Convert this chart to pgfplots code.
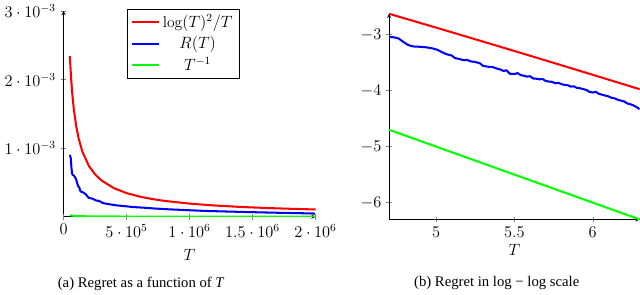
\documentclass[border=0pt]{standalone}
\usepackage{fontspec}
\newfontfamily\capfont{Liberation Serif}
\usepackage{pgfplots}
\pgfplotsset{compat=1.18}
\pgfplotsset{every tick label/.append style={font=\fontsize{11.5}{13}\selectfont},
  every axis label/.append style={font=\fontsize{11.5}{13}\selectfont}}
\begin{document}
\begin{tikzpicture}
\begin{axis}[
  at={(0pt,0pt)}, anchor=south west,
  width=185pt, height=151pt, scale only axis,
  axis lines=left, scaled ticks=false,
  xmin=0, xmax=2e6, ymin=0, ymax=3e-3,
  xtick={5e5,1e6,1.5e6,2e6},
  xticklabels={$5\cdot10^{5}$,$1\cdot10^{6}$,$1.5\cdot10^{6}$,$2\cdot10^{6}$},
  extra x ticks={0}, extra x tick labels={$0$},
  extra x tick style={hide obscured x ticks=false},
  ytick={1e-3,2e-3,3e-3},
  yticklabels={$1\cdot10^{-3}$,$2\cdot10^{-3}$,$3\cdot10^{-3}$},
  xlabel={$T$}, xlabel style={yshift=2pt},
  legend cell align=center,
  legend style={at={(0.25,1.01)}, anchor=north west, row sep=1pt, font=\fontsize{11.5}{13}\selectfont},
  legend image code/.code={\draw[#1] (0cm,0cm) -- (0.7cm,0cm);},
]
\addplot[red, line width=1.5pt] coordinates {
(5.0e4,2.3414e-3) (6.0e4,2.0175e-3) (7.0e4,1.7780e-3) (8.0e4,1.5932e-3)
(1.0e5,1.3255e-3) (1.2e5,1.1398e-3) (1.5e5,9.470e-4) (2.0e5,7.449e-4)
(2.5e5,6.180e-4) (3.0e5,5.302e-4) (4.0e5,4.160e-4) (5.0e5,3.444e-4)
(6.0e5,2.950e-4) (7.0e5,2.588e-4) (8.0e5,2.309e-4) (1.0e6,1.9087e-4)
(1.2e6,1.6328e-4) (1.4e6,1.4306e-4) (1.6e6,1.2755e-4) (1.8e6,1.1525e-4)
(2.0e6,1.0525e-4)
};
\addlegendentry{$\log(T)^2/T$}
\addplot[blue, line width=1.5pt] coordinates {
(5.01e4,9.02e-4) (5.75e4,8.51e-4) (6.03e4,7.76e-4) (6.31e4,7.08e-4)
(6.61e4,6.53e-4) (6.92e4,6.24e-4) (7.24e4,6.10e-4) (7.94e4,6.03e-4)
(8.71e4,5.89e-4) (9.55e4,5.62e-4) (1.023e5,5.31e-4) (1.096e5,4.79e-4)
(1.175e5,4.42e-4) (1.259e5,4.22e-4) (1.318e5,3.80e-4) (1.413e5,3.63e-4)
(1.585e5,3.51e-4) (1.778e5,3.24e-4) (1.995e5,2.75e-4) (2.291e5,2.63e-4)
(2.570e5,2.37e-4) (2.818e5,2.29e-4) (3.162e5,1.97e-4) (3.631e5,1.82e-4)
(4.169e5,1.66e-4) (4.786e5,1.55e-4) (5.495e5,1.41e-4) (6.310e5,1.32e-4)
(7.244e5,1.19e-4) (8.318e5,1.08e-4) (9.550e5,9.77e-5) (1.122e6,8.41e-5)
(1.288e6,7.59e-5) (1.479e6,6.68e-5) (1.698e6,5.75e-5) (1.905e6,5.01e-5)
(1.995e6,4.57e-5)
};
\addlegendentry{$R(T)$}
\addplot[green, line width=1.5pt] coordinates {
(5.0e4,2.0e-5) (1.0e5,1.0e-5) (2.0e5,5.0e-6) (5.0e5,2.0e-6) (1.0e6,1.0e-6) (2.0e6,5.0e-7)
};
\addlegendentry{$T^{-1}$}
\end{axis}
\begin{axis}[
  at={(239pt,-2pt)}, anchor=south west,
  width=184pt, height=151pt, scale only axis,
  axis lines=left,
  xmin=4.7, xmax=6.3, ymin=-6.3, ymax=-2.63,
  xtick={5,5.5,6},
  ytick={-6,-5,-4,-3},
  xlabel={$T$}, xlabel style={yshift=2pt},
]
\addplot[red, line width=1.5pt] coordinates {
(4.7,-2.631) (5.0,-2.8776) (5.25,-3.0852) (5.5,-3.2948) (5.75,-3.5062) (6.0,-3.7193) (6.3,-3.9768)
};
\addplot[blue, line width=1.5pt] coordinates {
(4.70,-3.045) (4.73,-3.050) (4.76,-3.070) (4.78,-3.110) (4.80,-3.150) (4.82,-3.185)
(4.84,-3.205) (4.86,-3.215) (4.90,-3.220) (4.94,-3.230) (4.98,-3.250) (5.01,-3.275)
(5.04,-3.320) (5.07,-3.355) (5.10,-3.375) (5.12,-3.420) (5.15,-3.440) (5.18,-3.460)
(5.20,-3.455) (5.22,-3.480) (5.25,-3.490) (5.28,-3.515) (5.30,-3.560) (5.33,-3.575)
(5.36,-3.580) (5.39,-3.610) (5.41,-3.625) (5.43,-3.650) (5.45,-3.640) (5.47,-3.700)
(5.50,-3.705) (5.52,-3.690) (5.54,-3.725) (5.56,-3.735) (5.58,-3.752) (5.60,-3.745)
(5.62,-3.785) (5.64,-3.790) (5.66,-3.800) (5.68,-3.795) (5.70,-3.830) (5.72,-3.840)
(5.74,-3.845) (5.76,-3.870) (5.78,-3.862) (5.80,-3.885) (5.82,-3.900) (5.84,-3.905)
(5.86,-3.930) (5.88,-3.925) (5.90,-3.955) (5.92,-3.960) (5.94,-3.975) (5.96,-3.990)
(5.98,-4.025) (6.00,-4.035) (6.02,-4.025) (6.04,-4.060) (6.06,-4.075) (6.08,-4.090)
(6.10,-4.105) (6.12,-4.130) (6.14,-4.140) (6.16,-4.165) (6.18,-4.180) (6.20,-4.195)
(6.22,-4.230) (6.24,-4.245) (6.26,-4.265) (6.28,-4.295) (6.30,-4.335)
};
\addplot[green, line width=1.5pt] coordinates {
(4.7,-4.7) (5.0,-5.0) (5.5,-5.5) (6.0,-6.0) (6.3,-6.3)
};
\end{axis}
\node[font=\capfont\fontsize{10.8}{12}\selectfont] at (57pt,-49pt) {(a) Regret as a function of \textit{T}};
\node[font=\capfont\fontsize{10.8}{12}\selectfont] at (318pt,-49pt) {(b) Regret in log − log scale};
\end{tikzpicture}
\end{document}
